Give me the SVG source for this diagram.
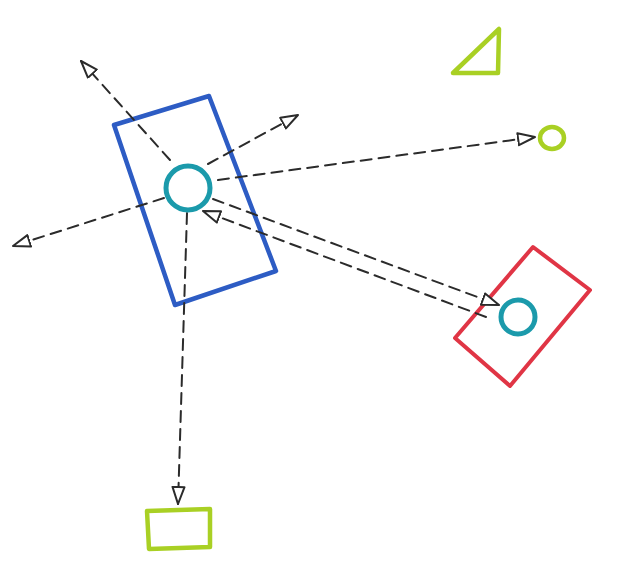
<svg xmlns="http://www.w3.org/2000/svg" width="635" height="587" viewBox="0 0 635 587">
<defs>
<style>
.conn{fill:none;stroke:#2b2b2b;stroke-width:2;stroke-dasharray:11 7;stroke-linecap:round}
.blue{fill:none;stroke:#2d5cc4;stroke-width:4.5;stroke-linejoin:round}
.red{fill:none;stroke:#e03545;stroke-width:4;stroke-linejoin:round}
.teal{fill:none;stroke:#1b9aab;stroke-width:5}
.green{fill:none;stroke:#a9d024;stroke-width:4.5;stroke-linejoin:round}
</style>
<marker id="ah" viewBox="0 0 19 15" refX="18" refY="7.5" markerWidth="19" markerHeight="15" markerUnits="userSpaceOnUse" orient="auto">
<path d="M1,1.5 L18,7.5 L1,13.5 Z" fill="#ffffff" stroke="#2b2b2b" stroke-width="2" stroke-linejoin="round"/>
</marker>
</defs>
<rect width="635" height="587" fill="#ffffff"/>
<g id="blue-rect"><polygon class="blue" points="114,125 209,96 276,271 175,305"/></g>
<g id="red-rect"><polygon class="red" points="533,247 590,290 510,386 455,338"/></g>
<g id="green-triangle"><polygon class="green" points="499,29 498,73 453,73"/></g>
<g id="green-rect"><polygon class="green" points="147,511 210,509 210,547 149,549"/></g>
<g id="green-circle"><ellipse class="green" cx="552" cy="138" rx="12" ry="11"/></g>
<g id="connectors">
<line class="conn" x1="170" y1="160" x2="81" y2="61" marker-end="url(#ah)"/>
<line class="conn" x1="208" y1="164" x2="298" y2="115" marker-end="url(#ah)"/>
<line class="conn" x1="218" y1="180" x2="535" y2="137" marker-end="url(#ah)"/>
<line class="conn" x1="164" y1="198" x2="13" y2="246" marker-end="url(#ah)"/>
<line class="conn" x1="187" y1="213" x2="178" y2="504" marker-end="url(#ah)"/>
<line class="conn" x1="213" y1="199" x2="499" y2="305" marker-end="url(#ah)"/>
<line class="conn" x1="486" y1="317" x2="203" y2="211" marker-end="url(#ah)"/>
</g>
<g id="center-circle"><circle class="teal" cx="188" cy="188" r="22"/></g>
<g id="red-circle"><circle class="teal" cx="518" cy="317" r="17"/></g>
</svg>
